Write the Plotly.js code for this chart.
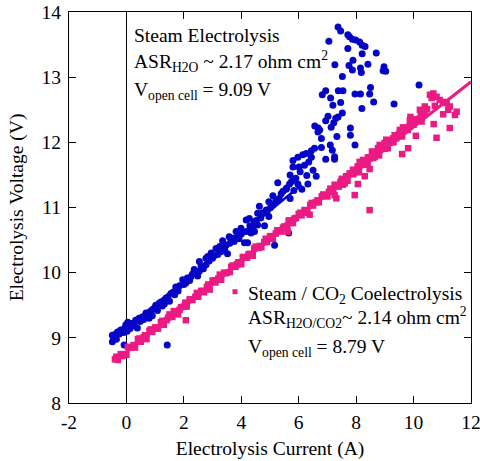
<!DOCTYPE html>
<html>
<head>
<meta charset="utf-8">
<script src="https://cdn.plot.ly/plotly-3.0.1.min.js"></script>
<style>html,body{margin:0;padding:0;background:#fff;}#chart{width:480px;height:461px;}</style>
</head>
<body>
<div id="chart"></div>
<script>
// ---- Data ----
var steamX = [
7.37,7.46,7.05,7.71,7.77,7.87,7.98,8.12,8.21,8.31,7.71,8.21,8.70,7.89,7.26,7.75,8.41,8.15,7.87,8.18,
8.97,8.94,9.03,7.52,8.50,6.94,6.82,7.38,7.54,7.96,8.15,8.47,7.11,7.46,8.61,7.19,9.32,8.20,7.37,7.29,
7.02,6.94,7.22,6.56,7.13,6.73,6.68,7.80,7.33,7.80,6.79,10.19,7.52,7.96,6.67,7.10,7.17,7.25,7.25,6.94,
6.79,6.55,6.44,6.26,6.14,6.44,5.97,5.80,5.80,6.01,6.50,5.70,6.28,6.61,5.27,5.68,5.97,6.32,5.56,5.83,
6.11,5.39,5.10,5.70,4.63,4.96,5.10,4.87,4.57,4.96,4.17,4.28,4.46,4.57,4.81,3.99,3.82,4.17,3.99,4.46,
3.58,3.70,4.22,4.11,3.35,3.47,3.52,3.12,3.29,2.95,2.83,2.77,3.00,2.54,2.36,5.65,5.16,4.34,
-0.49,-0.49,-0.31,-0.14,-0.02,0.09,0.27,0.38,0.44,0.68,0.79,0.97,1.14,1.38,1.55,1.72,1.96,2.07,2.25,2.54,
2.77,1.42,3.05,-0.08,
-0.45,-0.40,-0.35,-0.25,-0.20,-0.10,-0.05,0.02,0.05,0.12,0.18,0.22,0.32,0.48,0.55,0.60,0.72,0.85,0.90,1.02,
1.08,1.20,1.25,1.32,1.45,1.50,1.62,1.68,1.80,1.85,2.00,2.12,2.20,2.30,2.42,2.48,2.60,2.68,2.88,3.05,
3.18,3.25,3.42,3.60,3.65,3.75,3.88,3.92,4.05,4.30,4.38,4.52,4.68,4.75,4.90,5.02,5.20,5.32,5.45,5.58,
5.75,5.90,6.05,6.20,6.35
];
var steamY = [
13.77,13.71,13.55,13.65,13.62,13.58,13.57,13.54,13.49,13.47,13.44,13.36,13.37,13.26,13.19,13.18,13.20,13.14,13.11,13.07,
13.16,13.10,13.09,13.01,12.84,12.79,12.73,12.79,12.79,12.74,12.74,12.74,12.68,12.61,12.62,12.57,12.59,12.52,12.39,12.37,
12.40,12.33,12.30,12.25,12.23,12.19,12.22,12.22,12.09,12.11,12.06,12.88,12.45,11.96,12.16,11.96,11.88,11.78,11.74,11.74,
11.92,11.91,11.87,11.83,11.81,11.77,11.77,11.72,11.62,11.62,11.57,11.50,11.49,11.48,11.38,11.36,11.36,11.36,11.28,11.26,
11.28,11.21,11.18,11.14,11.02,11.09,11.04,10.96,10.91,10.86,10.81,10.83,10.78,10.73,10.72,10.68,10.63,10.63,10.59,10.63,
10.55,10.53,10.46,10.46,10.49,10.42,10.29,10.37,10.32,10.30,10.25,10.22,10.22,10.17,10.05,10.61,10.42,10.61,
9.04,8.94,9.09,9.12,9.20,9.17,9.22,9.15,9.30,9.38,9.30,9.45,9.53,9.61,9.68,9.78,9.89,9.84,9.94,10.02,
10.12,8.89,9.88,8.89,
9.00,9.05,8.98,9.06,9.12,9.08,9.15,9.10,9.24,9.14,9.22,9.18,9.27,9.25,9.32,9.28,9.35,9.40,9.34,9.50,
9.42,9.55,9.49,9.52,9.60,9.56,9.70,9.66,9.72,9.80,9.82,9.92,9.88,9.98,10.00,9.95,10.10,10.06,10.18,10.26,
10.28,10.40,10.36,10.45,10.50,10.48,10.58,10.52,10.62,10.72,10.68,10.80,10.84,10.92,10.95,11.00,11.10,11.14,11.25,11.30,
11.40,11.45,11.55,11.65,11.70
];

var coX = [
-0.4,-0.3,-0.2,-0.1,0.0,0.1,0.2,0.3,0.4,0.5,0.6,0.7,0.8,0.9,1.0,1.1,1.2,1.3,1.4,1.5,
1.6,1.7,1.8,1.9,2.0,2.1,2.2,2.3,2.4,2.5,2.6,2.7,2.8,2.9,3.0,3.1,3.2,3.3,3.4,3.5,
3.6,3.7,3.8,3.9,4.0,4.1,4.2,4.3,4.4,4.5,4.6,4.7,4.8,4.9,5.0,5.1,5.2,5.3,5.4,5.5,
5.6,5.7,5.8,5.9,6.0,6.1,6.2,6.3,6.4,6.5,6.6,6.7,6.8,6.9,7.0,7.1,7.2,7.3,7.4,7.5,
7.6,7.7,7.8,7.9,8.0,8.1,8.2,8.3,8.4,8.5,8.6,8.7,8.8,8.9,9.0,9.1,9.2,9.3,9.4,9.5,
9.6,9.7,9.8,9.9,10.0,10.1,10.2,10.3,10.4,
-0.35,-0.15,0.05,0.25,0.45,0.65,0.85,1.05,1.25,1.45,1.65,1.85,2.05,2.25,2.45,2.65,2.85,3.05,3.25,3.45,
3.65,3.85,4.05,4.25,4.45,4.65,4.85,5.05,5.25,5.45,5.65,5.85,6.05,6.25,6.45,6.65,6.85,7.05,7.25,7.45,
7.65,7.85,8.05,8.25,8.45,8.65,8.85,9.05,9.25,9.45,9.65,9.85,10.05,10.25,
10.57,10.69,10.63,10.80,10.91,11.03,11.15,11.26,11.50,11.44,11.21,11.03,10.74,10.39,10.22,10.28,10.47,9.89,9.87,9.93,
9.87,10.28,10.70,11.26,10.80,10.08,9.52,9.63,9.34,9.28,9.05,8.99,8.82,8.76,9.81,9.60,8.55,8.65,8.41,8.24,
8.12,8.47,7.89,7.77,7.66,8.30,7.48,7.54,8.06,7.95,8.47,7.31,7.25,7.60,6.38,5.62,2.07
];
var coY = [
8.67,8.66,8.75,8.75,8.74,8.85,8.86,8.85,8.98,8.94,9.01,8.98,9.11,9.09,9.16,9.14,9.24,9.20,9.27,9.36,
9.32,9.39,9.36,9.47,9.48,9.48,9.59,9.58,9.63,9.63,9.72,9.70,9.78,9.74,9.88,9.85,9.91,9.89,10.00,10.00,
10.01,10.11,10.09,10.16,10.13,10.24,10.23,10.29,10.26,10.40,10.38,10.39,10.47,10.47,10.56,10.52,10.60,10.65,10.63,10.71,
10.72,10.80,10.76,10.84,10.90,10.88,10.96,10.92,11.04,11.03,11.08,11.08,11.17,11.18,11.17,11.29,11.27,11.34,11.32,11.44,
11.42,11.41,11.52,11.51,11.57,11.54,11.67,11.66,11.67,11.76,11.76,11.82,11.80,11.91,11.90,11.91,12.00,12.00,12.06,12.13,
12.09,12.19,12.19,12.27,12.27,12.35,12.36,12.44,12.44,
8.71,8.72,8.86,8.89,8.99,9.04,9.13,9.16,9.26,9.31,9.41,9.43,9.54,9.59,9.69,9.72,9.82,9.87,9.97,9.99,
10.09,10.13,10.24,10.28,10.37,10.41,10.52,10.56,10.65,10.69,10.80,10.83,10.92,10.96,11.07,11.11,11.20,11.24,11.35,11.39,
11.48,11.52,11.63,11.66,11.75,11.79,11.90,11.94,12.03,12.09,12.19,12.24,12.35,12.40,
12.73,12.75,12.68,12.70,12.65,12.62,12.60,12.55,12.47,12.42,12.50,12.43,12.56,12.55,12.50,12.45,12.51,12.39,12.34,12.29,
12.24,12.32,12.28,12.22,12.07,12.10,12.19,12.23,12.11,12.06,12.04,11.99,11.96,11.91,11.91,11.82,11.86,11.78,11.77,11.73,
11.70,11.59,11.58,11.52,11.47,11.48,11.40,11.35,11.36,11.19,10.96,11.14,11.19,11.37,10.89,10.63,9.27
];

// Fit lines (end points)
var steamFitX = [-0.5, 6.1];
var steamFitY = [8.97, 11.35];
var coFitX = [-0.35, 12.0];
var coFitY = [8.66, 12.93];

var xTickVals = [-2, 0, 2, 4, 6, 8, 10, 12];
var xTickText = ['-2', '0', '2', '4', '6', '8', '10', '12'];
var yTickVals = [8, 9, 10, 11, 12, 13, 14];
var yTickText = ['8', '9', '10', '11', '12', '13', '14'];

var BLUE = '#0505C8';
var PINK = '#EC1A83';
var FONT = 'Liberation Serif';

var traces = [
  {x: steamX, y: steamY, type: 'scatter', mode: 'markers',
   marker: {symbol: 'circle', size: 7, color: BLUE}, name: 'Steam Electrolysis'},
  {x: steamFitX, y: steamFitY, type: 'scatter', mode: 'lines',
   line: {color: BLUE, width: 2.5}, name: 'steam fit'},
  {x: coX, y: coY, type: 'scatter', mode: 'markers',
   marker: {symbol: 'square', size: 6.5, color: PINK}, name: 'Steam / CO2 Coelectrolysis'},
  {x: coFitX, y: coFitY, type: 'scatter', mode: 'lines',
   line: {color: PINK, width: 3}, name: 'coelectrolysis fit'}
];

var axisCommon = {
  showline: true, linecolor: '#000', linewidth: 1, mirror: 'ticks',
  ticks: 'inside', ticklen: 7, tickwidth: 1, tickcolor: '#000',
  showgrid: false, tickfont: {family: FONT, size: 19.5, color: '#000'},
  ticklabeloverflow: 'allow'
};

var PL = 69, PW = 402, PB = 403, PH = 391;
var txtFont = {family: FONT, size: 19.5, color: '#000'};
function ann(px, py, text) {
  return {xref: 'paper', yref: 'paper', x: (px - PL) / PW, y: (PB - py) / PH,
          xanchor: 'left', yanchor: 'middle', align: 'left', showarrow: false,
          font: txtFont, text: text};
}

var layout = {
  width: 480, height: 461,
  margin: {l: PL, r: 480 - PL - PW, t: 12, b: 461 - PB},
  paper_bgcolor: '#fff', plot_bgcolor: '#fff',
  showlegend: false,
  font: {family: FONT, size: 20, color: '#000'},
  xaxis: Object.assign({}, axisCommon, {
    range: [-2, 12], tickmode: 'array', tickvals: xTickVals, ticktext: xTickText,
    zeroline: true, zerolinecolor: '#000', zerolinewidth: 1,
    ticklabelstandoff: 2,
    title: {text: 'Electrolysis Current (A)', font: txtFont, standoff: 8}
  }),
  yaxis: Object.assign({}, axisCommon, {
    range: [8, 14], tickmode: 'array', tickvals: yTickVals, ticktext: yTickText,
    zeroline: false, ticklabelstandoff: 3,
    title: {text: 'Electrolysis Voltage (V)', font: txtFont, standoff: 12}
  }),
  shapes: [
    {type: 'rect', xref: 'paper', yref: 'paper',
     x0: (232.5 - PL) / PW, x1: (237.5 - PL) / PW,
     y0: (PB - 294.2) / PH, y1: (PB - 289.2) / PH,
     fillcolor: PINK, line: {width: 0}}
  ],
  annotations: [
    ann(132, 36, 'Steam Electrolysis'),
    ann(132, 61, 'ASR<sub>H2O</sub> ~ 2.17 ohm cm<sup>2</sup>'),
    ann(132, 91, 'V<sub>open cell</sub> = 9.09 V'),
    ann(246, 294.5, 'Steam / CO<sub>2</sub> Coelectrolysis'),
    ann(246, 317, 'ASR<sub>H2O/CO2</sub>~ 2.14 ohm cm<sup>2</sup>'),
    ann(246, 348, 'V<sub>open cell</sub> = 8.79 V')
  ]
};

Plotly.newPlot('chart', traces, layout, {displayModeBar: false, staticPlot: true});
</script>
</body>
</html>
